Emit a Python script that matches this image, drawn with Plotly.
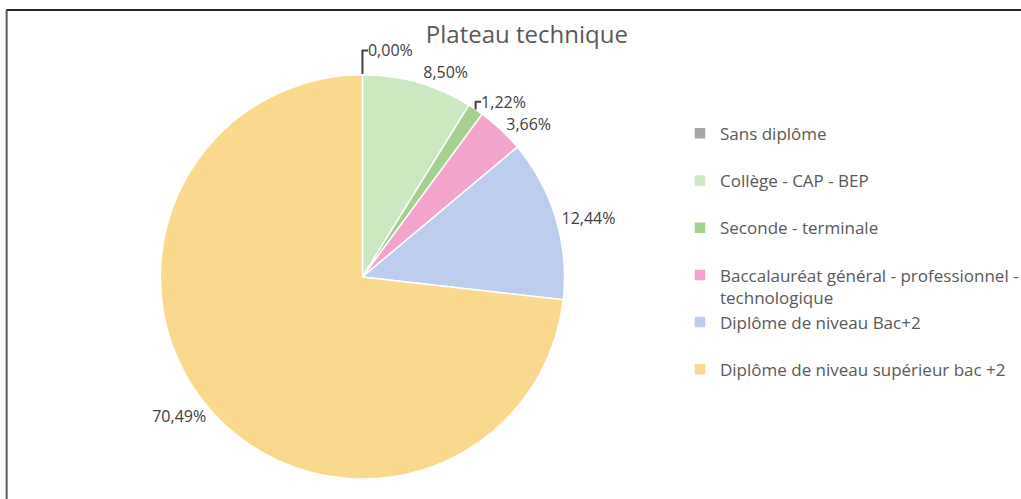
import plotly.graph_objects as go

categories = [
    "Sans diplôme",
    "Collège - CAP - BEP",
    "Seconde - terminale",
    "Baccalauréat général - professionnel -<br>technologique",
    "Diplôme de niveau Bac+2",
    "Diplôme de niveau supérieur bac +2",
]
values = [0.00, 8.50, 1.22, 3.66, 12.44, 70.49]
colors = ["#a6a6a6", "#cbe8c0", "#a5d18f", "#f3a3cc", "#bccdf0", "#fad88e"]

labels_text = [f"{v:.2f}%".replace(".", ",") for v in values]
legend_names = [c if "<br>" in c else c + "<br> " for c in categories]

fig = go.Figure(
    go.Pie(
        labels=legend_names,
        values=values,
        text=labels_text,
        textinfo="text",
        textposition="outside",
        textfont=dict(size=16, color="#404040", family="Open Sans"),
        marker=dict(colors=colors, line=dict(color="white", width=1.5)),
        sort=False,
        direction="clockwise",
        rotation=0,
        domain=dict(x=[0.08, 0.63], y=[0.04, 0.85]),
        showlegend=True,
        hoverinfo="skip",
    )
)

fig.update_layout(
    width=1021,
    height=499,
    paper_bgcolor="white",
    margin=dict(l=0, r=0, t=0, b=0, autoexpand=False),
    title=dict(
        text="Plateau technique",
        x=0.516,
        xanchor="center",
        y=0.93,
        yanchor="middle",
        font=dict(size=24, color="#595959", family="Open Sans"),
    ),
    legend=dict(
        x=0.666,
        y=0.768,
        xanchor="left",
        yanchor="top",
        valign="top",
        font=dict(size=17, color="#595959", family="Open Sans"),
        traceorder="normal",
    ),
    shapes=[
        dict(type="line", xref="paper", yref="paper", x0=0.006, x1=1, y0=0.98, y1=0.98,
             line=dict(color="#262626", width=2)),
        dict(type="line", xref="paper", yref="paper", x0=0.0065, x1=0.0065, y0=0, y1=0.98,
             line=dict(color="#595959", width=2)),
    ],
)

fig.write_html(
    "out.html",
    config={"displayModeBar": False},
    post_script="document.body.style.margin='0px';",
)
